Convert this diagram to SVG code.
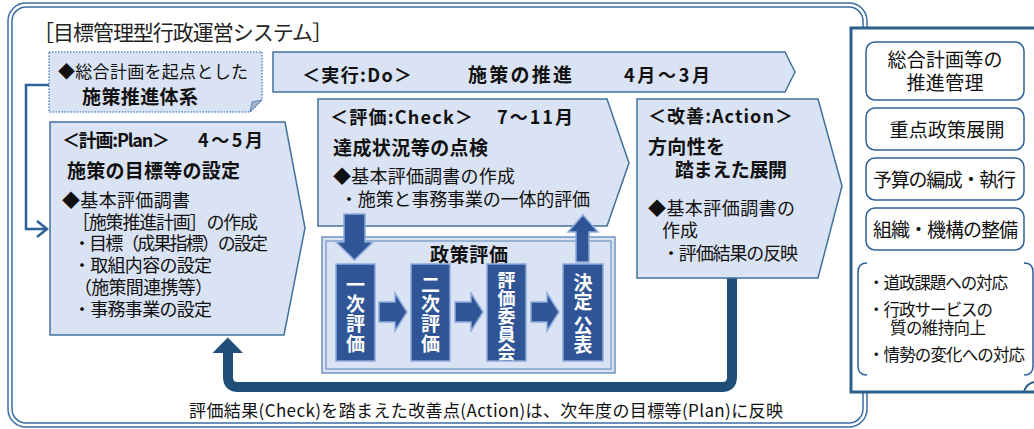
<svg xmlns="http://www.w3.org/2000/svg" width="1034" height="429" viewBox="0 0 1034 429">
<defs>
<style>
text{font-family:"Noto Sans CJK JP","Noto Sans CJK SC",sans-serif;fill:#111;}
.b{font-weight:bold;}
.s18{font-size:18px;}
.s19{font-size:19px;}
.s17{font-size:17px;}
.s16{font-size:16.5px;}
.lt{fill:#dae3f3;stroke:#41719c;stroke-width:1.5;}
.dk{fill:#2f5597;stroke:#8faadc;stroke-width:1.5;}
.vt{fill:#fff;font-weight:bold;writing-mode:vertical-rl;text-orientation:upright;}
.rb{fill:#fff;stroke:#2e6099;stroke-width:1.5;}
.mid{text-anchor:middle;}
</style>
</defs>
<rect width="1034" height="429" fill="#fff"/>
<!-- outer frame -->
<g id="frame" fill="none" stroke="#3b6ea5" stroke-width="1.5">
<rect x="8" y="3" width="859" height="424" rx="18"/>
<rect x="12" y="7" width="851" height="416" rx="14"/>
</g>
<text x="33" y="40" font-size="21" textLength="300" style="fill:#222">［目標管理型行政運営システム］</text>

<!-- connectors -->
<g id="connectors">
<path d="M49,85 H26 V229 H46" fill="none" stroke="#2e6099" stroke-width="2.5"/>
<path d="M37,221 L47,229 L37,237" fill="none" stroke="#2e6099" stroke-width="2.5"/>
<path d="M732,277 V377 Q732,387 722,387 H238 Q228,387 228,377 V352" fill="none" stroke="#1f4e79" stroke-width="10"/>
<polygon points="212.5,353 243,353 227.8,337.5" fill="#1f4e79"/>
</g>

<!-- note box -->
<g id="note">
<path d="M49,52 H262 V100 L250,112 H49 Z" fill="#dae3f3" stroke="#5b8bc2" stroke-width="1.5" stroke-dasharray="1.5,1.5"/>
<path d="M250,112 L252,102 L262,100 Z" fill="#a6b4c8" stroke="#5b8bc2" stroke-width="1"/>
<text x="58" y="78" class="s17" textLength="190">◆総合計画を起点とした</text>
<text x="82" y="104" class="b s19" textLength="116">施策推進体系</text>
</g>

<!-- Do banner -->
<g id="do">
<polygon class="lt" points="273,52 785,52 795,72 785,92 273,92"/>
<text x="302" y="82" class="b s18" textLength="110">＜実行:Do＞</text>
<text x="468" y="82" class="b s19" textLength="104">施策の推進</text>
<text x="624" y="82" class="b s18" textLength="86">4月～3月</text>
</g>

<!-- Plan -->
<g id="plan">
<polygon class="lt" points="50,122 285,122 305,228 284,335 50,335"/>
<text x="62" y="147" class="b s18" textLength="108">＜計画:Plan＞</text>
<text x="198" y="147" class="b s18" textLength="65">4～5月</text>
<text x="67" y="178" class="b s19" textLength="173">施策の目標等の設定</text>
<text x="62" y="207" class="s18" textLength="128">◆基本評価調書</text>
<text x="72" y="229" class="s18" textLength="186">［施策推進計画］の作成</text>
<text x="73" y="250" class="s18" textLength="195">・目標（成果指標）の設定</text>
<text x="73" y="272" class="s18" textLength="139">・取組内容の設定</text>
<text x="74" y="294" class="s18" textLength="139">（施策間連携等）</text>
<text x="73" y="316" class="s18" textLength="139">・事務事業の設定</text>
</g>

<!-- Check -->
<g id="check">
<polygon class="lt" points="318,99 607,99 629,163 607,226 318,226"/>
<text x="330" y="124" class="b s18" textLength="143">＜評価:Check＞</text>
<text x="497" y="124" class="b s18" textLength="76">7～11月</text>
<text x="333" y="155" class="b s19" textLength="155">達成状況等の点検</text>
<text x="333" y="183" class="s18" textLength="182">◆基本評価調書の作成</text>
<text x="340" y="206" class="s18" textLength="250">・施策と事務事業の一体的評価</text>
</g>

<!-- Action -->
<g id="action">
<polygon class="lt" points="637,99 818,99 842,186 818,278 637,278"/>
<text x="648" y="123" class="b s18" textLength="145">＜改善:Action＞</text>
<text x="648" y="154" class="b s19" textLength="77">方向性を</text>
<text x="675" y="177" class="b s19" textLength="112">踏まえた展開</text>
<text x="648" y="215" class="s18" textLength="147">◆基本評価調書の</text>
<text x="662" y="237" class="s18" textLength="36">作成</text>
<text x="662" y="260" class="s18" textLength="136">・評価結果の反映</text>
</g>

<!-- Policy evaluation -->
<g id="policy">
<rect x="322" y="237" width="293" height="136" fill="#dae3f3" stroke="#6f93c0" stroke-width="1.5"/>
<rect x="326" y="241" width="285" height="128" fill="none" stroke="#6f93c0" stroke-width="1.2"/>
<text x="469" y="262" class="b s19 mid" textLength="78">政策評価</text>
</g>

<g id="arrow-down">
<polygon class="dk" points="344,214 365,214 365,242 373,242 354.5,260 336,242 344,242"/>
</g>
<g id="arrow-up">
<polygon class="dk" points="576,262 589,262 589,232 598,232 583,215 568,232 576,232"/>
</g>

<g id="eval1">
<rect class="dk" x="336" y="264" width="39" height="97"/>
<text class="vt" x="355.5" y="275" font-size="19" letter-spacing="0.7">一次評価</text>
</g>
<g id="eval2">
<rect class="dk" x="411" y="264" width="39" height="97"/>
<text class="vt" x="430.5" y="275" font-size="19" letter-spacing="0.7">二次評価</text>
</g>
<g id="eval3">
<rect class="dk" x="487" y="264" width="39" height="97"/>
<text class="vt" x="506.5" y="271" font-size="18">評価委員会</text>
</g>
<g id="eval4">
<rect class="dk" x="563" y="264" width="40" height="97"/>
<text class="vt" x="583" y="273.5" font-size="19">決定</text>
<text class="vt" x="583" y="316.5" font-size="19">公表</text>
</g>
<g id="small-arrows">
<polygon class="dk" points="379,302 395,302 395,293 407,312 395,331 395,322 379,322"/>
<polygon class="dk" points="455,302 471,302 471,293 483,312 471,331 471,322 455,322"/>
<polygon class="dk" points="531,302 547,302 547,293 559,312 547,331 547,322 531,322"/>
</g>

<text x="189" y="417" class="s17" textLength="594">評価結果(Check)を踏まえた改善点(Action)は、次年度の目標等(Plan)に反映</text>

<!-- right panel -->
<g id="panel">
<path d="M851,28 H1040 V392 H851 Z" fill="#fff" stroke="#2e5f8a" stroke-width="3"/>
<path d="M1024,392 Q1026,384 1034,382" fill="none" stroke="#2e5f8a" stroke-width="2"/>
</g>
<g id="r1">
<rect class="rb" x="866" y="42" width="158" height="58" rx="9"/>
<text x="945" y="67" class="s19 mid" textLength="115">総合計画等の</text>
<text x="945" y="90" class="s19 mid" textLength="77">推進管理</text>
</g>
<g id="r2">
<rect class="rb" x="866" y="108" width="158" height="42" rx="9"/>
<text x="947" y="137" class="s19 mid" textLength="115">重点政策展開</text>
</g>
<g id="r3">
<rect class="rb" x="866" y="158" width="158" height="42" rx="9"/>
<text x="944.5" y="187" class="s19 mid" textLength="143">予算の編成・執行</text>
</g>
<g id="r4">
<rect class="rb" x="866" y="208" width="158" height="42" rx="9"/>
<text x="945.5" y="237" class="s19 mid" textLength="145">組織・機構の整備</text>
</g>
<g id="r5">
<path d="M867,263 Q858,263 858,272 V366 Q858,375 867,375" fill="none" stroke="#2e6099" stroke-width="1.5"/>
<path d="M1024,263 Q1033,263 1033,272 V366 Q1033,375 1024,375" fill="none" stroke="#2e6099" stroke-width="1.5"/>
<text x="868" y="289" class="s16" textLength="140">・道政課題への対応</text>
<text x="868" y="316" class="s16" textLength="125">・行政サービスの</text>
<text x="890" y="334" class="s16" textLength="96">質の維持向上</text>
<text x="868" y="361" class="s16" textLength="157">・情勢の変化への対応</text>
</g>
</svg>
